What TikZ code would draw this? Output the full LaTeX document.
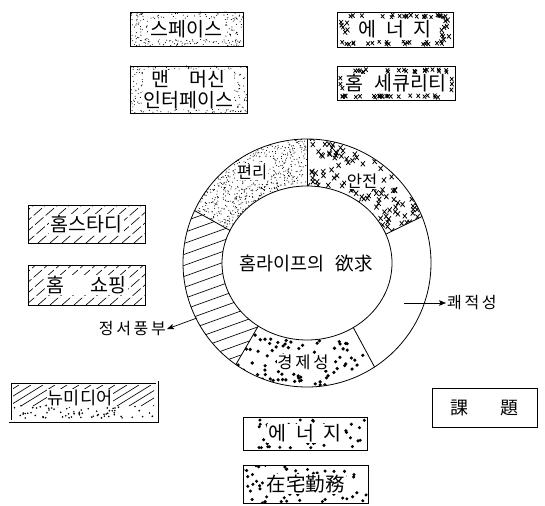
\documentclass[tikz,border=0pt]{standalone}
\usepackage{fontspec}
\setmainfont{Noto Sans CJK KR}
\usetikzlibrary{arrows.meta}
\newcommand\dotsin[6]{%
  \foreach \i in {1,...,#5}{\fill ({#1+#3*rnd},{#2+#4*rnd}) circle[radius=#6];}}
\newcommand\xfigsin[6]{%
  \foreach \i in {1,...,#5}{\draw[xf] ({#1+#3*rnd},{#2+#4*rnd}) ++(-#6,-1.25*#6) -- ++(2*#6,2.5*#6) ++(0,-2.5*#6) -- ++(-2*#6,2.2*#6);}}
\begin{document}
\begin{tikzpicture}[x=1pt,y=-1pt,
  boxframe/.style={draw, line width=0.9pt, inner sep=0pt},
  lbl/.style={fill=white, inner sep=1.5pt, font=\fontsize{19.5}{22}\selectfont},
  ringlbl/.style={fill=white, inner sep=0.8pt, font=\fontsize{16.5}{18}\selectfont},
  plain/.style={inner sep=1pt, font=\fontsize{16}{18}\selectfont},
  xf/.style={line width=0.8pt, line cap=round},
  hatch/.style={line width=0.65pt},
  ringline/.style={line width=0.8pt},
  arr/.style={line width=0.7pt, -{Stealth[length=7pt,width=5.5pt,inset=1.5pt]}},
]
\useasboundingbox (0,0) rectangle (545,505);
\fill[white] (0,0) rectangle (545,505);

% ---------- 스페이스 ----------
\begin{scope}
  \clip (130,12) rectangle (243,46);
  \pgfmathsetseed{1}\dotsin{130}{12}{113}{34}{330}{0.55pt}
\end{scope}
\node[boxframe, minimum width=113pt, minimum height=34pt] (space) at (186.5,29) {};
\node[lbl, inner xsep=3pt] (spacet) at (space.center) {스페이스};

% ---------- 맨 머신 인터페이스 ----------
\begin{scope}
  \clip (130,66) rectangle (247,113);
  \pgfmathsetseed{2}\dotsin{130}{66}{117}{47}{420}{0.55pt}
\end{scope}
\node[boxframe, minimum width=117pt, minimum height=47pt] (mmi) at (188.5,89.5) {};
\node[lbl, align=center, inner sep=0.5pt, font=\fontsize{19.5}{21}\selectfont] (mmit) at (mmi.center) {맨\hspace{1em}머신\\인터페이스};

% ---------- 에너지 (top) ----------
\pgfmathsetseed{3}
\xfigsin{342}{14.5}{108}{3}{22}{1.6}
\xfigsin{342}{41.5}{108}{3}{22}{1.6}
\xfigsin{341}{20}{7}{20}{6}{1.8}
\xfigsin{438}{18}{11}{22}{9}{1.8}
\node[boxframe, minimum width=116pt, minimum height=35pt] (en1) at (395,29.5) {};
\node[lbl] (en1t) at (en1.center) {에\hspace{0.5em}너\hspace{0.5em}지};

% ---------- 홈 세큐리티 ----------
\pgfmathsetseed{4}
\xfigsin{342}{69.5}{108}{3}{22}{1.6}
\xfigsin{342}{95.5}{108}{2}{24}{1.6}
\xfigsin{340}{76}{3}{14}{3}{1.6}
\xfigsin{451}{76}{2}{14}{3}{1.6}
\node[boxframe, minimum width=118pt, minimum height=34pt] (sec) at (396,83) {};
\node[lbl, inner sep=0.5pt] (sect) at (sec.center) {홈\hspace{0.6em}세큐리티};

% ---------- 홈스타디 ----------
\begin{scope}
  \clip (28,205) rectangle (145,243);
  \foreach \k in {-50,-38,...,130} \draw[hatch, dash pattern=on 11pt off 3pt] ({28+\k},243) -- ++(46,-40);
\end{scope}
\node[boxframe, minimum width=117pt, minimum height=38pt] (study) at (86.5,224) {};
\node[lbl] (studyt) at (study.center) {홈스타디};

% ---------- 홈 쇼핑 ----------
\begin{scope}
  \clip (28,265) rectangle (145,305);
  \foreach \k in {-50,-38,...,130} \draw[hatch, dash pattern=on 11pt off 3pt] ({28+\k},305) -- ++(48,-42);
\end{scope}
\node[boxframe, minimum width=117pt, minimum height=40pt] (shop) at (86.5,285) {};
\node[lbl] (shopt) at (shop.center) {홈\hspace{1.3em}쇼핑};

% ---------- 뉴미디어 ----------
\begin{scope}
  \clip (13,385) rectangle (154,406);
  \foreach \k in {-40,-28,...,150} \draw[hatch] ({13+\k},406) -- ++(34,-21);
\end{scope}
\begin{scope}
  \clip (13,405) rectangle (154,418);
  \pgfmathsetseed{5}\dotsin{13}{405}{141}{13}{75}{0.9pt}
\end{scope}
\node[draw, double, double distance=1.8pt, line width=0.6pt, minimum width=147pt, minimum height=39pt] (newm) at (83.5,401.5) {};
\node[lbl, inner sep=1pt, font=\fontsize{17.5}{19}\selectfont] (newmt) at (80,398) {뉴미디어};

% ---------- 課題 ----------
\node[draw, line width=0.6pt, minimum width=105pt, minimum height=39pt] (task) at (484.5,407.5) {};
\node[plain, font=\fontsize{18}{20}\selectfont] (taskt) at (task.center) {課\hspace{1.8em}題};

% ---------- 에너지 (bottom) ----------
\begin{scope}
  \clip (243,417) rectangle (367,450);
  \pgfmathsetseed{6}\dotsin{243}{417}{124}{33}{50}{1.7pt}
\end{scope}
\node[boxframe, minimum width=124pt, minimum height=33pt] (en2) at (305,433.5) {};
\node[lbl, inner sep=1pt] (en2t) at (en2.center) {에\hspace{0.5em}너\hspace{0.5em}지};

% ---------- 在宅勤務 ----------
\begin{scope}
  \clip (243,465) rectangle (368,503);
  \pgfmathsetseed{7}\dotsin{243}{465}{125}{38}{60}{1.7pt}
\end{scope}
\node[boxframe, minimum width=125pt, minimum height=38pt] (home) at (305.5,484) {};
\node[lbl, inner sep=1pt] (homet) at (home.center) {在宅勤務};

% ---------- ring ----------
\begin{scope}[shift={(307,263)}, yscale=-1]
  \begin{scope}
    \clip (90:124) arc[start angle=90,end angle=155,radius=124] -- ({85*cos(155)},{77*sin(155)}) arc[start angle=155,end angle=90,x radius=85,y radius=77] -- cycle;
    \pgfmathsetseed{11}\dotsin{-124}{20}{124}{104}{1400}{0.55pt}
  \end{scope}
  \begin{scope}
    \clip (22:124) arc[start angle=22,end angle=90,radius=124] -- (0,77) arc[start angle=90,end angle=22,x radius=85,y radius=77] -- cycle;
    \pgfmathsetseed{12}\xfigsin{0}{22}{124}{104}{210}{2}
  \end{scope}
  \begin{scope}
    \clip (235:124) arc[start angle=235,end angle=303,radius=124] -- ({85*cos(303)},{77*sin(303)}) arc[start angle=303,end angle=235,x radius=85,y radius=77] -- cycle;
    \pgfmathsetseed{13}\dotsin{-75}{-126}{150}{72}{130}{1.8pt}
  \end{scope}
  \begin{scope}
    \clip (155:124) arc[start angle=155,end angle=235,radius=124] -- ({85*cos(235)},{77*sin(235)}) arc[start angle=235,end angle=155,x radius=85,y radius=77] -- cycle;
    \foreach \c in {-170,-159,...,100} \draw[hatch] (-130,\c) -- (-20,{\c+110*0.36});
  \end{scope}
  \draw[ringline] (0,0) circle[radius=124];
  \draw[ringline] (0,0) ellipse[x radius=85, y radius=77];
  \foreach \a in {22,90,155,235,303} \draw[ringline] ({85*cos(\a)},{77*sin(\a)}) -- (\a:124);
\end{scope}

\node[ringlbl] (conv) at (252,172) {편리};
\node[ringlbl] (safe) at (362,181) {안전};
\node[ringlbl] (econ) at (303,362) {경\,제\,성};
\node[plain, font=\fontsize{18.5}{20}\selectfont] (core) at (306,263) {홈라이프의\hspace{0.6em}欲求};

% ---------- arrows ----------
\coordinate (kstart) at (404,303);
\node[plain, anchor=west] (comf) at (446,303) {쾌\,적\,성};
\draw[arr] (kstart) -- (comf.west);
\coordinate (jstart) at (197,318);
\node[plain, anchor=east] (emo) at (167,329) {정\,서\,풍\,부};
\draw[arr] (jstart) -- (emo.east);
\end{tikzpicture}
\end{document}
